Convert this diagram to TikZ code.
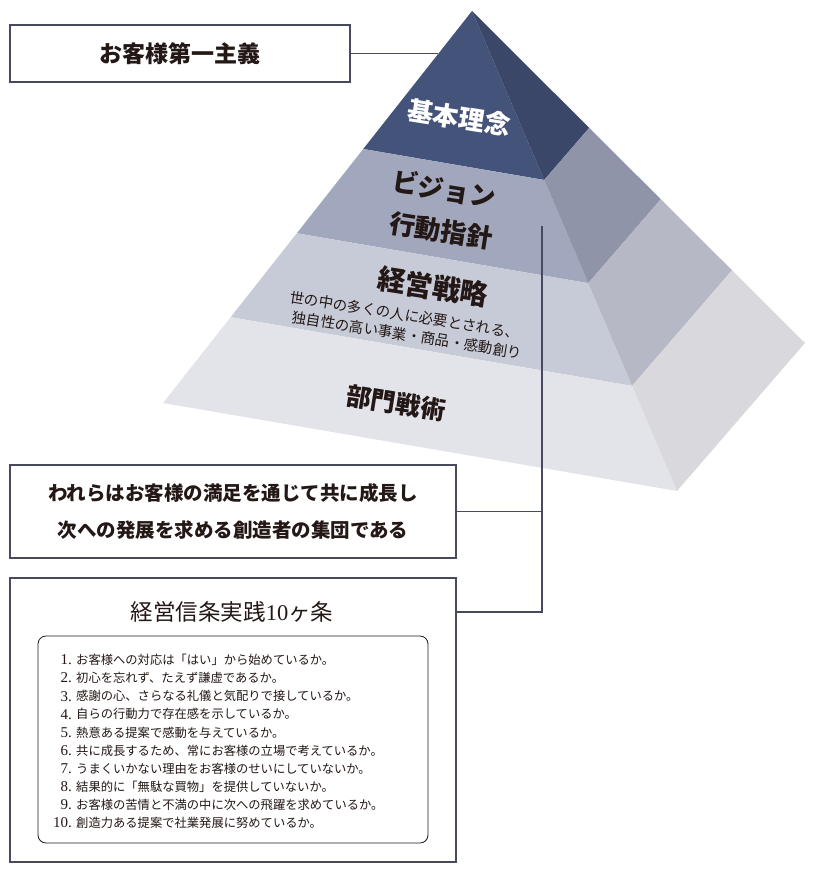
\documentclass[tikz,border=0pt]{standalone}
\usepackage{fontspec}
\usepackage{tikz}
\usetikzlibrary{calc,positioning}
\newfontfamily\jp{Noto Sans CJK JP}
\newfontfamily\numf{Liberation Serif}
\definecolor{TierOneF}{HTML}{44537A}
\definecolor{TierOneR}{HTML}{3B4768}
\definecolor{TierTwoF}{HTML}{A1A7BC}
\definecolor{TierTwoR}{HTML}{9094A8}
\definecolor{TierThreeF}{HTML}{C7CAD7}
\definecolor{TierThreeR}{HTML}{B7B8C5}
\definecolor{TierFourF}{HTML}{E3E3EA}
\definecolor{TierFourR}{HTML}{D9D9DD}
\definecolor{FrameInk}{HTML}{474A5E}
\definecolor{TextInk}{HTML}{231815}

\begin{document}
\begin{tikzpicture}[x=1pt,y=-1pt,
  framebox/.style={draw=FrameInk,line width=2pt,fill=white},
  linkline/.style={draw=FrameInk,line width=1.5pt},
  tierlabel/.style={font=\jp\bfseries\fontsize{26}{26}\selectfont,text=TextInk,rotate=-9,inner sep=0pt},
  tiernote/.style={font=\jp\fontsize{14.5}{14.5}\selectfont,text=TextInk,rotate=-9,inner sep=0pt}]
  \useasboundingbox (0,0) rectangle (816,881);
  % pyramid corners
  \coordinate (apex) at (472,11);
  \coordinate (baseL) at (163,403);
  \coordinate (baseF) at (677,491);
  \coordinate (baseR) at (805,343);
  % front face, top to bottom
  \fill[TierOneF] (apex) -- ($(apex)!0.352!(baseL)$) -- ($(apex)!0.352!(baseF)$) -- cycle;
  \fill[TierTwoF] ($(apex)!0.352!(baseL)$) -- ($(apex)!0.567!(baseL)$) -- ($(apex)!0.567!(baseF)$) -- ($(apex)!0.352!(baseF)$) -- cycle;
  \fill[TierThreeF] ($(apex)!0.567!(baseL)$) -- ($(apex)!0.781!(baseL)$) -- ($(apex)!0.781!(baseF)$) -- ($(apex)!0.567!(baseF)$) -- cycle;
  \fill[TierFourF] ($(apex)!0.781!(baseL)$) -- (baseL) -- (baseF) -- ($(apex)!0.781!(baseF)$) -- cycle;
  % right face
  \fill[TierOneR] (apex) -- ($(apex)!0.352!(baseF)$) -- ($(apex)!0.352!(baseR)$) -- cycle;
  \fill[TierTwoR] ($(apex)!0.352!(baseF)$) -- ($(apex)!0.567!(baseF)$) -- ($(apex)!0.567!(baseR)$) -- ($(apex)!0.352!(baseR)$) -- cycle;
  \fill[TierThreeR] ($(apex)!0.567!(baseF)$) -- ($(apex)!0.781!(baseF)$) -- ($(apex)!0.781!(baseR)$) -- ($(apex)!0.567!(baseR)$) -- cycle;
  \fill[TierFourR] ($(apex)!0.781!(baseF)$) -- (baseF) -- (baseR) -- ($(apex)!0.781!(baseR)$) -- cycle;

  % tier texts
  \node[tierlabel,text=white] (kihon) at (459,118) {基本理念};
  \node[tierlabel] (vision) at (444,189) {ビジョン};
  \node[tierlabel] (koudou) at (441,231) {行動指針};
  \node[tierlabel,font=\jp\bfseries\fontsize{28}{28}\selectfont] (keiei) at (433,287) {経営戦略};
  \node[tiernote] (noteA) at (405,315) {世の中の多くの人に必要とされる、};
  \node[tiernote] (noteB) at (407,335) {独自性の高い事業・商品・感動創り};
  \node[tierlabel,font=\jp\bfseries\fontsize{25}{25}\selectfont] (bumon) at (396,403) {部門戦術};

  % boxes
  \node[framebox,minimum width=340pt,minimum height=57pt,
    font=\jp\bfseries\fontsize{23}{23}\selectfont,text=TextInk] (motto) at (180,53.5) {お客様第一主義};
  \node[framebox,minimum width=446pt,minimum height=93pt,align=center,
    font=\jp\bfseries\fontsize{19.5}{37}\selectfont,text=TextInk] (creed) at (233,511.5)
    {われらはお客様の満足を通じて共に成長し\\次への発展を求める創造者の集団である};
  \node[framebox,minimum width=446pt,minimum height=284pt] (rules) at (233,720) {};
  \node[font=\jp\fontsize{22.5}{22.5}\selectfont,text=TextInk] (ruletitle) at (232,612)
    {経営信条実践{\numf 10}ヶ条};
  \node[draw=TextInk,line width=0.8pt,rounded corners=8pt,
    minimum width=390pt,minimum height=207pt] (rulelist) at (233,739.5) {};
  \foreach \item [count=\i] in {%
    {お客様への対応は「はい」から始めているか。},
    {初心を忘れず、たえず謙虚であるか。},
    {感謝の心、さらなる礼儀と気配りで接しているか。},
    {自らの行動力で存在感を示しているか。},
    {熱意ある提案で感動を与えているか。},
    {共に成長するため、常にお客様の立場で考えているか。},
    {うまくいかない理由をお客様のせいにしていないか。},
    {結果的に「無駄な買物」を提供していないか。},
    {お客様の苦情と不満の中に次への飛躍を求めているか。},
    {創造力ある提案で社業発展に努めているか。}}
  {
    \node[anchor=east,inner sep=0pt,font=\numf\fontsize{15}{15}\selectfont,text=TextInk]
      (num\i) at (72,{660+(\i-1)*18.1}) {\i.};
    \node[anchor=west,inner sep=0pt,font=\jp\fontsize{12.3}{12.3}\selectfont,text=TextInk]
      (rule\i) at (76,{660+(\i-1)*18.1}) {\item};
  }

  % connectors
  \coordinate (edgehit) at ($(apex)!0.11!(baseL)$);
  \coordinate (spine) at (542,226);
  \draw[linkline] (motto.east) -- (motto.east -| edgehit);
  \draw[linkline] (spine) |- (rules.east |- ruletitle.center);
  \draw[linkline] (creed.east) -- (creed.east -| spine);
\end{tikzpicture}
\end{document}
